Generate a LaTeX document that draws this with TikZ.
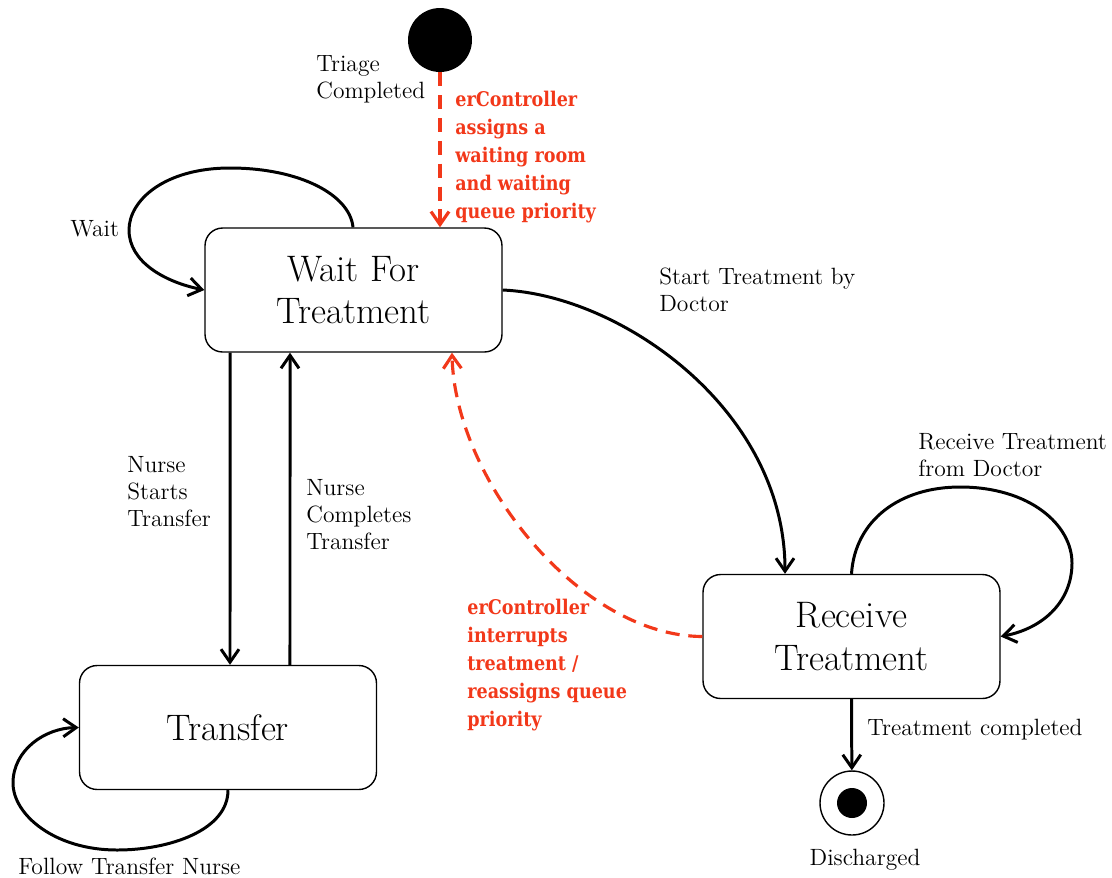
\documentclass[tikz,border=0pt]{standalone}
\usepackage{fontspec}
\usetikzlibrary{arrows.meta,positioning}
\newfontfamily\ctrlfont{DejaVu Serif}[FakeStretch=0.87]
\definecolor{ctrlred}{HTML}{F2381A}

\begin{document}
\begin{tikzpicture}[
  x=0.02cm, y=-0.02cm,
  >={Straight Barb[length=2.6mm,width=3.6mm]},
  state/.style={draw, line width=0.8pt, rounded corners=10pt,
    minimum width=5.94cm, minimum height=2.48cm, align=center,
    font=\fontsize{21}{24.4}\selectfont},
  trans/.style={->, line width=1.7pt},
  ctrl/.style={->, line width=1.8pt, ctrlred, dash pattern=on 8pt off 5pt},
  lab/.style={font=\fontsize{13.4}{15.4}\selectfont, align=left, inner sep=0pt},
  ctrllab/.style={font=\ctrlfont\bfseries\fontsize{11.5}{15.9}\selectfont,
    text=ctrlred, align=left, inner sep=0pt}
]
\useasboundingbox (0,0) rectangle (1112,877);
% ---- states ----
\node[state] (wait) at (353.5,290) {Wait For\\Treatment};
\node[state] (transfer) at (228,727.5) {Transfer};
\node[state] (receive) at (851.5,636.5) {Receive\\Treatment};
\node[circle, fill, minimum size=1.28cm, inner sep=0pt] (start) at (440,40) {};
\node[circle, draw, line width=0.8pt, minimum size=1.28cm, inner sep=0pt]
  (done) at (852,803) {};
\node[circle, fill, minimum size=0.6cm, inner sep=0pt] (donedot) at (done) {};
% ---- entry from triage ----
\node[lab, anchor=west] (triage) at (316,79) {Triage\\Completed};
\draw[ctrl] (start) -- (wait.north -| start);
\node[ctrllab, anchor=west] (assign) at (455,157)
  {erController\\assigns a\\waiting room\\and waiting\\queue priority};
% ---- waiting loop ----
\draw[trans] ([xshift=-0.01cm]wait.north)
  .. controls (350,195) and (300,168) .. (230,168)
  .. controls (165,168) and (129,200) .. (129,230)
  .. controls (129,262) and (165,282) .. (wait.west);
\node[lab, anchor=west] (waitlab) at (70,229) {Wait};
% ---- transfer ----
\draw[trans] ([xshift=-2.47cm]wait.south) -- ([xshift=0.04cm]transfer.north);
\draw[trans] ([xshift=1.24cm]transfer.north) -- ([xshift=-1.27cm]wait.south);
\node[lab, anchor=west] (starts) at (127,492) {Nurse\\Starts\\Transfer};
\node[lab, anchor=west] (completes) at (306,515) {Nurse\\Completes\\Transfer};
\draw[trans] (transfer.south)
  .. controls (228,830) and (170,850) .. (117,850)
  .. controls (55,850) and (13,815) .. (13,783)
  .. controls (13,750) and (45,728) .. (transfer.west);
\node[lab, anchor=west] (follow) at (18,866) {Follow Transfer Nurse};
% ---- treatment ----
\draw[trans] (wait.east)
  .. controls (620,295) and ([xshift=-1.33cm,yshift=3.3cm]receive.north)
  .. ([xshift=-1.33cm]receive.north);
\node[lab, anchor=west] (begin) at (659,290) {Start Treatment by\\Doctor};
\draw[trans] (receive.north)
  .. controls (855,520) and (900,487) .. (960,487)
  .. controls (1030,487) and (1072,525) .. (1072,563)
  .. controls (1072,600) and (1045,628) .. (receive.east);
\node[lab, anchor=west] (again) at (918,455) {Receive Treatment\\from Doctor};
\draw[ctrl] (receive.west)
  .. controls (580,636) and (455,480) .. ([xshift=1.97cm]wait.south);
\node[ctrllab, anchor=west] (interrupt) at (467,665)
  {erController\\interrupts\\treatment /\\reassigns queue\\priority};
% ---- discharge ----
\draw[trans] (receive.south) -- (done);
\node[lab, anchor=west] (finished) at (867,730) {Treatment completed};
\node[lab] (discharged) at (865,860) {Discharged};
\end{tikzpicture}
\end{document}
